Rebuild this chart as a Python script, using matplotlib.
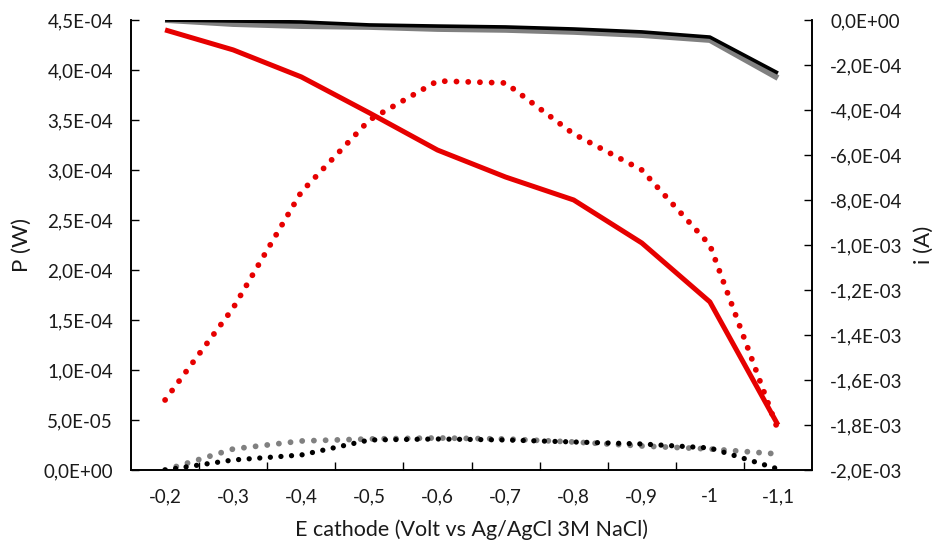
import matplotlib.pyplot as plt
from matplotlib.ticker import FuncFormatter, MultipleLocator

plt.rcParams['font.family'] = ['Lato', 'DejaVu Sans']

potentials = ['-0,2', '-0,3', '-0,4', '-0,5', '-0,6', '-0,7', '-0,8', '-0,9', '-1', '-1,1']

# power (W), left axis
p_red = [7.0e-5, 1.62e-4, 2.78e-4, 3.50e-4, 3.89e-4, 3.87e-4, 3.36e-4, 3.00e-4, 2.25e-4, 4.0e-5]
p_gray = [0.0, 2.1e-5, 2.9e-5, 3.1e-5, 3.2e-5, 3.1e-5, 2.8e-5, 2.4e-5, 2.1e-5, 1.6e-5]
p_black = [0.0, 1.0e-5, 1.5e-5, 3.0e-5, 3.1e-5, 3.0e-5, 2.8e-5, 2.6e-5, 2.2e-5, 1.0e-6]

# current (A), right axis
i_red = [-4.4e-5, -1.33e-4, -2.53e-4, -4.13e-4, -5.78e-4, -6.98e-4, -8.0e-4, -9.91e-4, -1.253e-3, -1.80e-3]
i_gray = [0.0, -1.8e-5, -2.7e-5, -3.1e-5, -4.0e-5, -4.4e-5, -5.3e-5, -6.7e-5, -8.9e-5, -2.58e-4]
i_black = [0.0, -4.4e-6, -8.9e-6, -2.2e-5, -2.7e-5, -3.1e-5, -4.0e-5, -5.3e-5, -7.6e-5, -2.36e-4]

red = '#e60000'
gray = '#808080'
dots = (0, (0.01, 2.0))


def sci(v, pos):
    return f"{v:.1E}".replace('.', ',')


fig, ax = plt.subplots(figsize=(9.44, 5.52), dpi=100)
fig.subplots_adjust(left=0.1388, right=0.8602, bottom=0.1486, top=0.9638)
ax2 = ax.twinx()

x = range(len(potentials))

ax.plot(x, p_red, color=red, lw=4.2, ls=dots, dash_capstyle='round')
ax.plot(x, p_gray, color=gray, lw=4.2, ls=dots, dash_capstyle='round')
ax.plot(x, p_black, color='black', lw=3.8, ls=dots, dash_capstyle='round')

ax2.plot(x, i_gray, color=gray, lw=4.2, solid_capstyle='butt')
ax2.plot(x, i_black, color='black', lw=2.6, solid_capstyle='butt')
ax2.plot(x, i_red, color=red, lw=3.6, solid_capstyle='butt')

ax.set_xlim(-0.5, len(potentials) - 0.5)
ax.set_ylim(0, 4.5e-4)
ax2.set_ylim(-2.0e-3, 0)
ax.yaxis.set_major_locator(MultipleLocator(5e-5))
ax2.yaxis.set_major_locator(MultipleLocator(2e-4))
ax.yaxis.set_major_formatter(FuncFormatter(sci))
ax2.yaxis.set_major_formatter(FuncFormatter(sci))

ax.set_xticks([k + 0.5 for k in range(len(potentials) - 1)])
ax.set_xticklabels([])
ax.set_xticks(list(x), potentials, minor=True)
ax.tick_params(axis='x', which='major', direction='in', length=6, width=1)
ax.tick_params(axis='x', which='minor', length=0, pad=13, labelsize=13.5, labelcolor='#1a1a1a')
ax.tick_params(axis='y', direction='in', length=6, width=1, pad=13, labelsize=13.5, labelcolor='#1a1a1a')
ax2.tick_params(axis='y', direction='in', length=6, width=1, pad=13, labelsize=13.5, labelcolor='#1a1a1a')

for a in (ax, ax2):
    a.spines['top'].set_visible(False)
    for s in ('left', 'right', 'bottom'):
        a.spines[s].set_linewidth(1.2)

ax.set_xlabel('E cathode (Volt vs Ag/AgCl 3M NaCl)', fontsize=15.5, color='#1a1a1a', labelpad=10)
ax.set_ylabel('P (W)', fontsize=16, color='#1a1a1a', labelpad=8)
ax2.set_ylabel('i (A)', fontsize=16, color='#1a1a1a', labelpad=8)

fig.savefig('out.png', dpi=100)
